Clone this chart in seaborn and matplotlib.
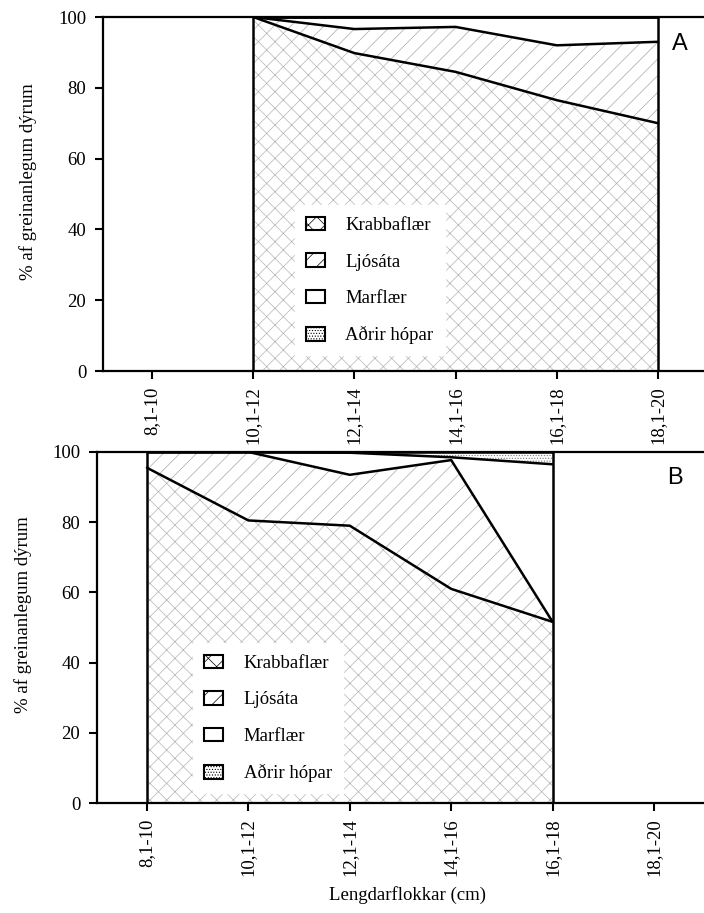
import numpy as np
import pandas as pd
import matplotlib
matplotlib.use("Agg")
import matplotlib.pyplot as plt
import seaborn as sns
from matplotlib.patches import Patch

# Length classes of the fish (cm) and prey groups
length_classes = ["8,1-10", "10,1-12", "12,1-14", "14,1-16", "16,1-18", "18,1-20"]
groups = ["Krabbaflær", "Ljósáta", "Marflær", "Aðrir hópar"]

# Panel A: % of identifiable prey in each length class (NaN = no data)
a_krabbaflaer = [np.nan, 100.0, 89.8, 84.5, 76.5, 70.0]
a_ljosata = [np.nan, 0.0, 6.8, 12.7, 15.5, 23.0]
a_marflaer = [np.nan, 0.0, 3.4, 2.8, 8.0, 7.0]
a_adrir = [np.nan, 0.0, 0.0, 0.0, 0.0, 0.0]

# Panel B
b_krabbaflaer = [95.5, 80.5, 79.0, 61.0, 51.6, np.nan]
b_ljosata = [4.5, 19.5, 14.5, 36.7, 0.0, np.nan]
b_marflaer = [0.0, 0.0, 6.3, 0.8, 44.9, np.nan]
b_adrir = [0.0, 0.0, 0.2, 1.5, 3.5, np.nan]

y_ticks = [0, 20, 40, 60, 80, 100]

sns.set_theme(style="ticks")
plt.rcParams["font.family"] = ["Liberation Serif", "DejaVu Serif"]
plt.rcParams["hatch.linewidth"] = 0.5
for key in ("text.color", "axes.labelcolor", "xtick.color", "ytick.color",
            "axes.edgecolor"):
    plt.rcParams[key] = "black"

hatches = ["xx", "//", None, "......"]
hatch_colors = ["#b4b4b4", "#a8a8a8", "white", "#7a7a7a"]
FS = 13.5

W, H = 704, 913
fig = plt.figure(figsize=(W / 100, H / 100), dpi=100)


def make_axes(left_px, top_px, bottom_px, tick0_px, step_px):
    ax = fig.add_axes([left_px / W, 1 - bottom_px / H,
                       (W - left_px) / W, (bottom_px - top_px) / H])
    ax.set_xlim((left_px - tick0_px) / step_px, (W - tick0_px) / step_px)
    ax.set_ylim(0, 100)
    return ax


def draw_panel(ax, layers, letter, leg_anchor, ylab_pos):
    x = np.arange(len(length_classes))
    vals = np.array(layers, dtype=float)
    valid = ~np.isnan(vals[0])
    xs = x[valid]
    cum = np.vstack([np.zeros(valid.sum()), np.cumsum(vals[:, valid], axis=0)])

    for i in range(len(groups)):
        ax.fill_between(xs, cum[i], cum[i + 1], facecolor="white",
                        edgecolor=hatch_colors[i], hatch=hatches[i],
                        linewidth=0, zorder=1)

    tops = pd.DataFrame({
        "x": np.tile(xs, len(groups)),
        "top": cum[1:].ravel(),
        "layer": np.repeat(groups, len(xs)),
    })
    sns.lineplot(data=tops, x="x", y="top", hue="layer",
                 palette=["black"] * len(groups), legend=False,
                 estimator=None, linewidth=1.8, ax=ax, zorder=3)
    for xe, ye in ((xs[0], cum[-1][0]), (xs[-1], cum[-1][-1])):
        ax.plot([xe, xe], [0, ye], color="black", linewidth=1.8, zorder=3)

    ax.set_xticks(x)
    ax.set_xticklabels(length_classes, rotation=90, fontsize=FS)
    ax.set_yticks(y_ticks)
    ax.set_yticklabels([str(t) for t in y_ticks], fontsize=FS)
    ax.tick_params(axis="y", direction="out", length=6, width=1.5, pad=6)
    ax.tick_params(axis="x", direction="out", length=6, width=1.5, pad=5)
    for s in ("left", "bottom", "top"):
        ax.spines[s].set_visible(True)
        ax.spines[s].set_linewidth(1.6)
        ax.spines[s].set_color("black")
        ax.spines[s].set_zorder(4)
    ax.spines["right"].set_visible(False)

    ax.set_xlabel("")
    ax.set_ylabel("% af greinanlegum dýrum", fontsize=FS)
    ax.yaxis.set_label_coords(*ylab_pos)

    ax.text(*letter[1:], letter[0], transform=ax.transAxes, ha="center",
            va="center", fontsize=17, family=["Liberation Sans", "DejaVu Sans"])

    handles = [Patch(facecolor="white", edgecolor="black", hatch=h,
                     linewidth=1.5) for h in hatches]
    leg = ax.legend(handles, groups, loc="upper left", bbox_to_anchor=leg_anchor,
                    borderaxespad=0, frameon=True, fancybox=False,
                    framealpha=1, facecolor="white", edgecolor="white",
                    fontsize=FS, handlelength=1.0, handleheight=0.75,
                    handletextpad=1.1, labelspacing=1.02, borderpad=0.6)
    leg.set_zorder(5)


ax_a = make_axes(103, 17, 371, 152, 101.2)
draw_panel(ax_a, [a_krabbaflaer, a_ljosata, a_marflaer, a_adrir],
           ("A", 0.96, 0.924), (0.319, 0.468), (-0.11, 0.534))

ax_b = make_axes(97, 452, 803, 147, 101.4)
draw_panel(ax_b, [b_krabbaflaer, b_ljosata, b_marflaer, b_adrir],
           ("B", 0.952, 0.926), (0.158, 0.455), (-0.107, 0.536))
ax_b.set_xlabel("Lengdarflokkar (cm)", fontsize=FS)
ax_b.xaxis.set_label_coords(0.512, -0.238)

fig.savefig("out.png", dpi=100)
